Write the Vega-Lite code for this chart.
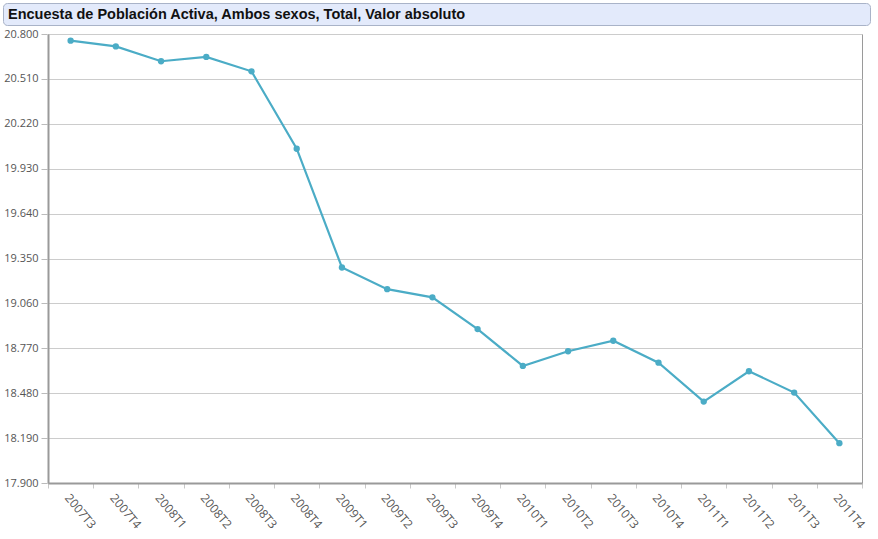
{
  "$schema": "https://vega.github.io/schema/vega-lite/v6.json",
  "padding": {"left": 2, "top": 2, "right": 0, "bottom": 0},
  "background": "white",
  "spacing": 2,
  "config": {
    "locale": {"number": {"decimal": ",", "thousands": ".", "grouping": [3], "currency": ["", " €"]}},
    "view": {"stroke": null}
  },
  "datasets": {
    "epa": [
      {"periodo": "2007T3", "valor": 20757},
      {"periodo": "2007T4", "valor": 20720},
      {"periodo": "2008T1", "valor": 20624},
      {"periodo": "2008T2", "valor": 20652},
      {"periodo": "2008T3", "valor": 20559},
      {"periodo": "2008T4", "valor": 20059},
      {"periodo": "2009T1", "valor": 19292},
      {"periodo": "2009T2", "valor": 19152},
      {"periodo": "2009T3", "valor": 19099},
      {"periodo": "2009T4", "valor": 18894},
      {"periodo": "2010T1", "valor": 18656},
      {"periodo": "2010T2", "valor": 18751},
      {"periodo": "2010T3", "valor": 18819},
      {"periodo": "2010T4", "valor": 18677},
      {"periodo": "2011T1", "valor": 18426},
      {"periodo": "2011T2", "valor": 18622},
      {"periodo": "2011T3", "valor": 18484},
      {"periodo": "2011T4", "valor": 18157}
    ],
    "titulo": [{"texto": "Encuesta de Población Activa, Ambos sexos, Total, Valor absoluto"}]
  },
  "vconcat": [
    {
      "width": 867,
      "height": 22,
      "view": {"fill": "#e3eafb", "stroke": "#a9b3c8", "strokeWidth": 1, "cornerRadius": 4},
      "data": {"name": "titulo"},
      "mark": {"type": "text", "align": "left", "baseline": "middle", "font": "Liberation Sans", "fontWeight": "bold", "fontSize": 14.5, "color": "#111", "x": 5, "y": 11.5},
      "encoding": {"text": {"field": "texto"}}
    },
    {
      "spacing": -11,
      "hconcat": [
        {
          "width": 44,
          "height": 449,
          "data": {"name": "epa"},
          "mark": {"type": "tick", "opacity": 0},
          "encoding": {
            "y": {
              "field": "valor", "type": "quantitative", "title": null,
              "scale": {"domain": [17900, 20800], "nice": false, "zero": false},
              "axis": {
                "orient": "left",
                "offset": -44,
                "minExtent": 0,
                "values": [17900, 18190, 18480, 18770, 19060, 19350, 19640, 19930, 20220, 20510, 20800],
                "format": ",d",
                "labelFont": "Open Sans", "labelFontSize": 11, "labelColor": "#555",
                "labelPadding": 3,
                "tickSize": 6, "tickColor": "#bbbbbb",
                "domain": false, "grid": false
              }
            }
          }
        },
        {
          "width": 814,
          "height": 449,
          "view": {"stroke": "#9a9a9a", "strokeWidth": 1},
          "data": {"name": "epa"},
          "encoding": {
            "x": {
              "field": "periodo", "type": "ordinal", "sort": null, "title": null,
              "scale": {"paddingInner": 0, "paddingOuter": 0},
              "axis": {
                "labelAngle": 50, "labelAlign": "left", "labelBaseline": "top",
                "labelFont": "Open Sans", "labelFontSize": 12, "labelColor": "#555",
                "labelPadding": 4,
                "tickBand": "extent", "tickSize": 5, "tickColor": "#c8c8c8", "tickWidth": 1,
                "domainColor": "#9a9a9a", "domainWidth": 2, "grid": false
              }
            },
            "y": {
              "field": "valor", "type": "quantitative", "title": null,
              "scale": {"domain": [17900, 20800], "nice": false, "zero": false},
              "axis": {
                "values": [17900, 18190, 18480, 18770, 19060, 19350, 19640, 19930, 20220, 20510, 20800],
                "labels": false, "ticks": false, "minExtent": 0, "maxExtent": 0,
                "domainColor": "#9a9a9a", "domainWidth": 2,
                "grid": true, "gridColor": "#cccccc", "gridWidth": 1
              }
            }
          },
          "layer": [
            {"mark": {"type": "line", "color": "#4bacc6", "strokeWidth": 2.2}},
            {"mark": {"type": "point", "filled": true, "color": "#4bacc6", "size": 40, "opacity": 1}}
          ]
        }
      ]
    }
  ]
}
